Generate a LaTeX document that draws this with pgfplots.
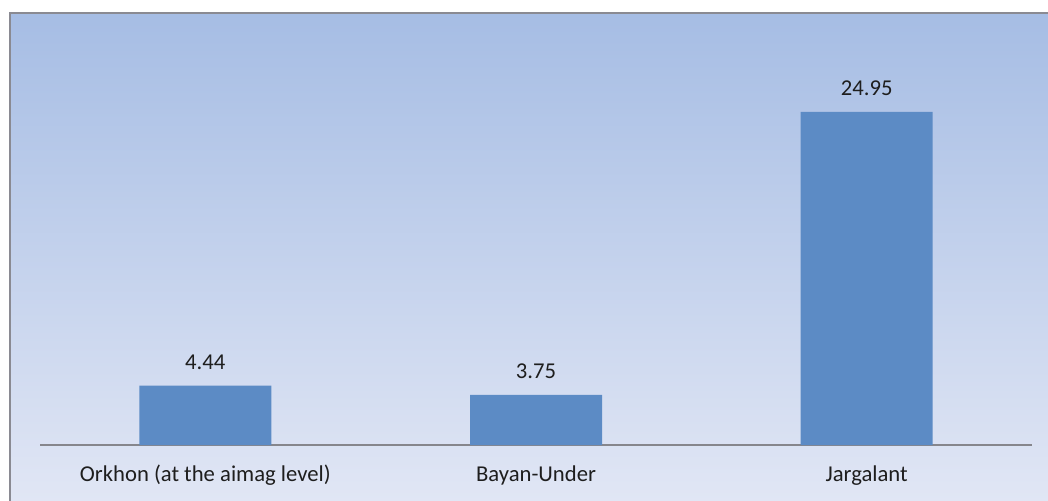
\documentclass[border=0pt]{standalone}
\usepackage{pgfplots}
\pgfplotsset{compat=1.18}
\usepackage{fontspec}
\setmainfont{Carlito}
\definecolor{barblue}{RGB}{92,139,197}
\definecolor{bgtop}{RGB}{166,189,228}
\definecolor{bgbot}{RGB}{226,231,245}
\definecolor{framegray}{RGB}{138,138,146}
\definecolor{axisgray}{RGB}{134,134,140}
\definecolor{txt}{RGB}{30,30,30}

\begin{document}
\begin{tikzpicture}[x=0.75pt,y=0.75pt]
% picture is 1048 x 500 px, 1px = 0.75pt
\useasboundingbox (0,0) rectangle (1048,500);
\clip (0,0) rectangle (1048,500);
\fill[white] (0,0) rectangle (1048,500);
\shade[top color=bgtop, bottom color=bgbot] (9.5,-10) rectangle (1060,486.5);
\draw[framegray, line width=1.5pt] (9.5,-10) -- (9.5,486.5) -- (1060,486.5);

\begin{axis}[
  at={(30pt,41.25pt)}, anchor=south west,
  scale only axis,
  width=744pt, height=300.4pt,
  xmin=-0.5, xmax=2.5,
  ymin=0, ymax=30,
  ybar, bar width=99pt,
  axis x line*=bottom,
  axis y line=none,
  axis line style={axisgray, line width=0.9pt, -},
  xtick=data,
  xticklabels={Orkhon (at the aimag level), Bayan-Under, Jargalant},
  major tick length=0pt,
  ytick=\empty,
  xticklabel style={font=\fontsize{17}{20}\selectfont, text=txt, inner sep=0pt, anchor=north, yshift=-15pt},
  nodes near coords,
  nodes near coords style={font=\fontsize{17}{20}\selectfont, text=txt, anchor=south, inner sep=0pt, yshift=12pt},
  point meta=explicit symbolic,
  clip=false,
]
\addplot[fill=barblue, draw=none] coordinates {
  (0,4.44) [4.44]
  (1,3.75) [3.75]
  (2,24.95) [24.95]
};
\end{axis}
\end{tikzpicture}
\end{document}
